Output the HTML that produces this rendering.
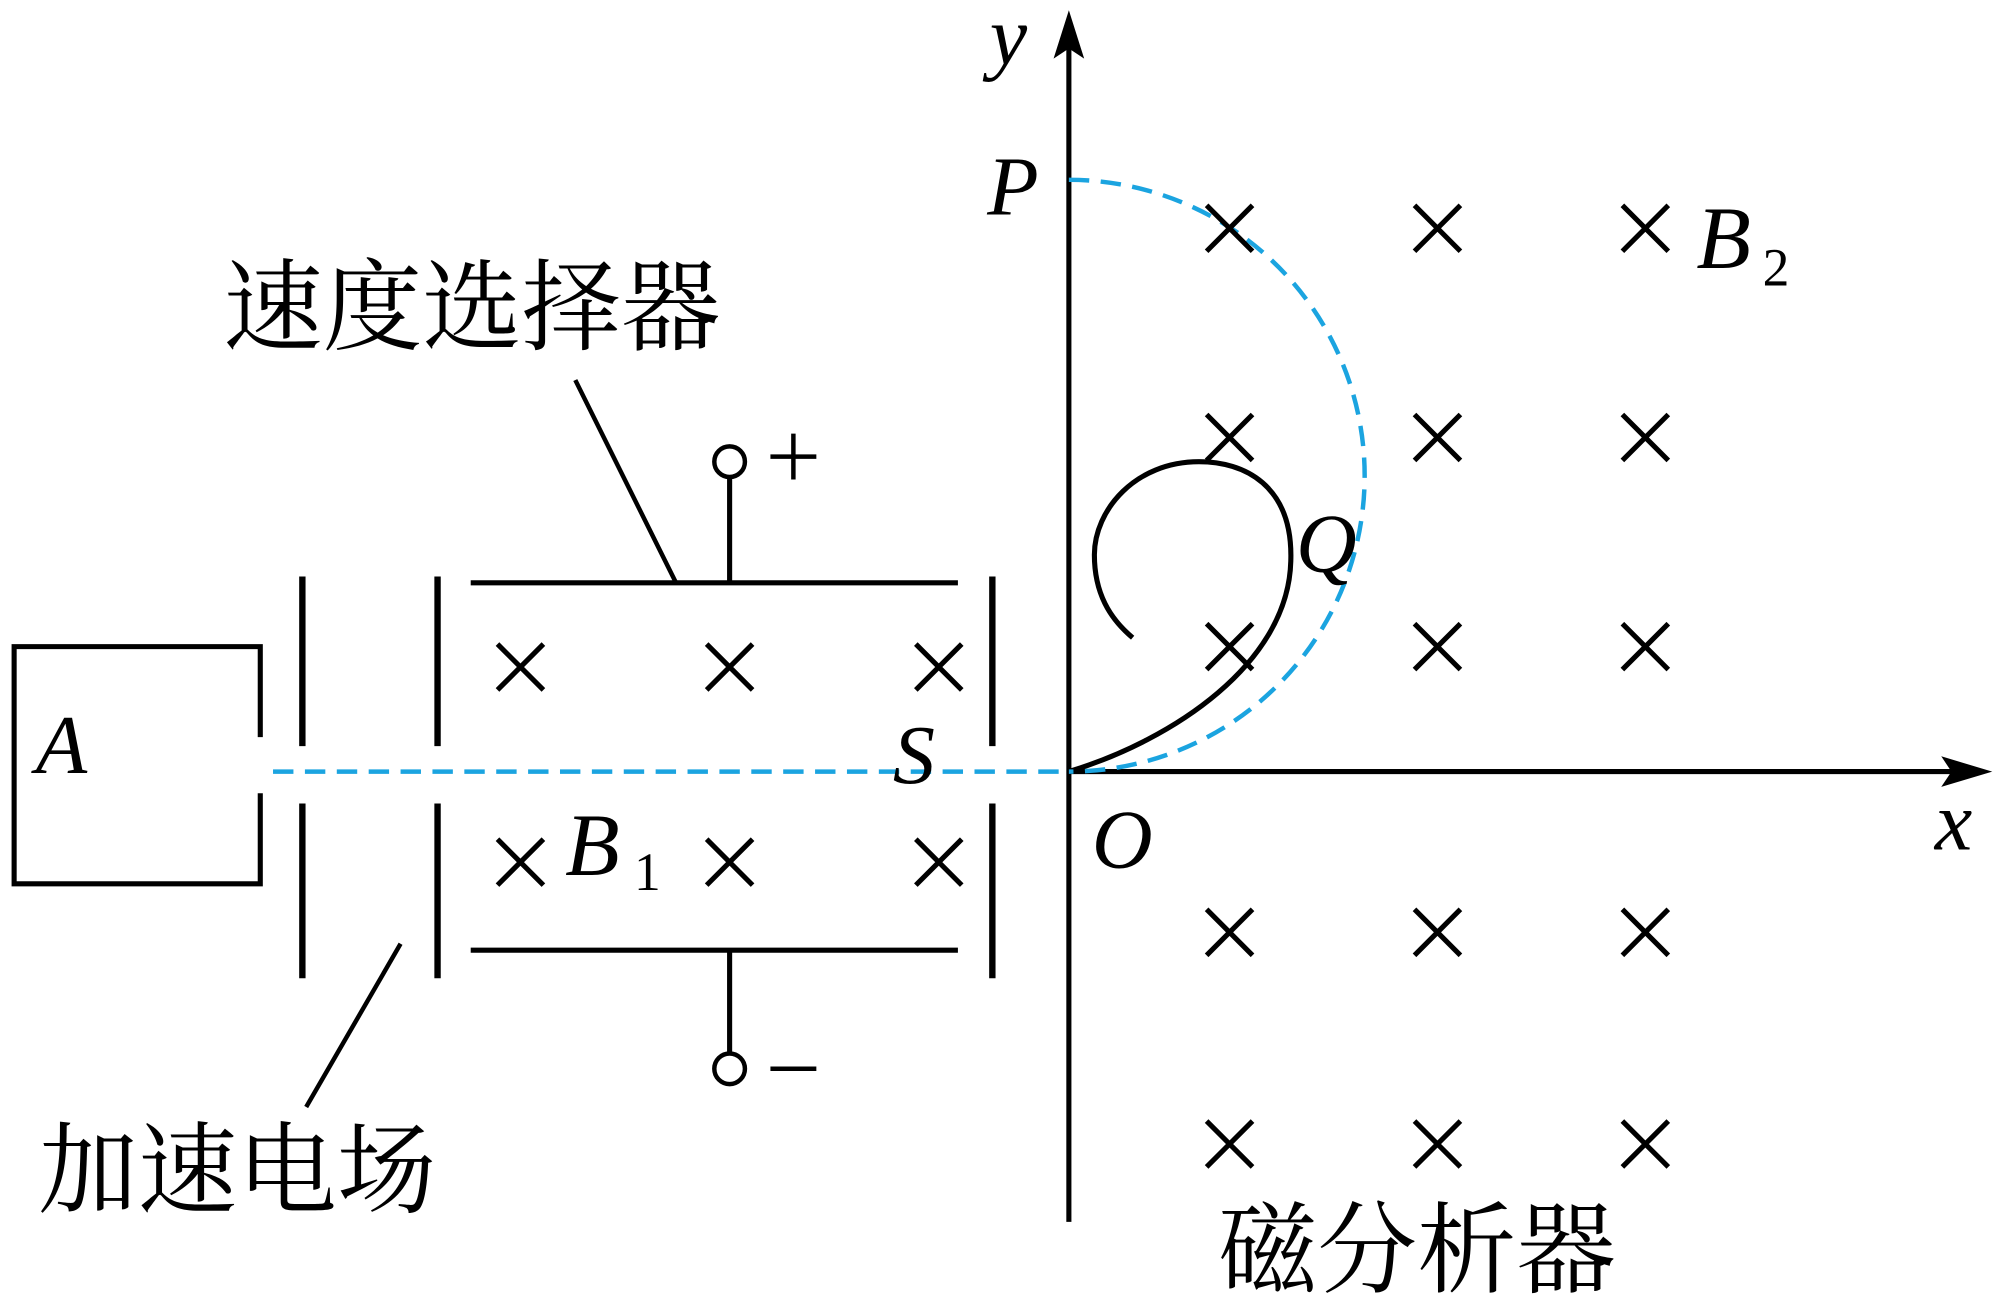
<!DOCTYPE html>
<html><head><meta charset="utf-8"><style>
html,body{margin:0;padding:0;background:#fff;}
svg{display:block;}
.t{font-family:"Liberation Serif","Noto Serif CJK SC",serif;font-style:italic;fill:#000;}
.c{font-family:"Liberation Serif","Noto Serif CJK SC","Noto Sans CJK SC",serif;fill:#000;}
</style></head><body>
<svg width="2000" height="1306" viewBox="0 0 1568 1024" xmlns="http://www.w3.org/2000/svg">
<defs>
<g id="x"><path d="M-18,-18L18,18M18,-18L-18,18" stroke="#000" stroke-width="4" fill="none"/></g>
</defs>
<g stroke="#000" fill="none" stroke-width="4">
<path d="M204,578V507H11V693H204V622"/>
<path d="M237,452V585M237,630V767M343,452V585M343,630V767M778,452V585M778,630V767" stroke-width="5"/>
<path d="M369,457H751M369,745H751"/>
<path d="M572,374V457M572,745V826"/>
<circle cx="572" cy="362" r="12" stroke-width="3.5"/>
<circle cx="572" cy="838" r="12" stroke-width="3.5"/>
<path d="M451,298L530,457M314,740L240,868" stroke-width="3.5"/>
<path d="M838,958V30M838,605H1540"/>
<path d="M838,605 C920,580 1010,520 1012,440 C1014,380 975,362 940,362 C890,362 858,400 858,435 C858,465 870,485 888,500"/>
<path d="M604,358H640M622,340V376M604,838H640" stroke-width="3.5"/>
</g>
<path d="M838,8L826,46L838,38L850,46Z" fill="#000"/>
<path d="M1562,605L1522,593L1530,605L1522,617Z" fill="#000"/>
<path d="M214,605H838" stroke="#1ba4e0" stroke-width="3.5" stroke-dasharray="16,9" fill="none"/>
<path d="M838,141 A232,232 0 0 1 838,605" stroke="#1ba4e0" stroke-width="3.5" stroke-dasharray="16,9" fill="none"/>
<g>
<use href="#x" x="408" y="523"/><use href="#x" x="572" y="523"/><use href="#x" x="736" y="523"/>
<use href="#x" x="408" y="676"/><use href="#x" x="572" y="676"/><use href="#x" x="736" y="676"/>
<use href="#x" x="964" y="179"/><use href="#x" x="1127" y="179"/><use href="#x" x="1290" y="179"/>
<use href="#x" x="964" y="343"/><use href="#x" x="1127" y="343"/><use href="#x" x="1290" y="343"/>
<use href="#x" x="964" y="507"/><use href="#x" x="1127" y="507"/><use href="#x" x="1290" y="507"/>
<use href="#x" x="964" y="731"/><use href="#x" x="1127" y="731"/><use href="#x" x="1290" y="731"/>
<use href="#x" x="964" y="897"/><use href="#x" x="1127" y="897"/><use href="#x" x="1290" y="897"/>
</g>
<text class="t" x="28" y="606" font-size="66">A</text>
<text class="t" x="443" y="686" font-size="70">B</text>
<text class="c" x="497" y="698" font-size="42">1</text>
<text class="t" x="700" y="614" font-size="66">S</text>
<text class="t" x="776" y="50" font-size="66">y</text>
<text class="t" x="1517" y="666" font-size="66">x</text>
<text class="t" x="856" y="680" font-size="66">O</text>
<text class="t" x="774" y="168" font-size="66">P</text>
<text class="t" x="1016" y="448" font-size="66">Q</text>
<text class="t" x="1330" y="210" font-size="70">B</text>
<text class="c" x="1382" y="224" font-size="42">2</text>
<text class="c" x="175" y="268" font-size="78">速度选择器</text>
<text class="c" x="30" y="945" font-size="78">加速电场</text>
<text class="c" x="955" y="1007" font-size="78">磁分析器</text>
</svg>
</body></html>
